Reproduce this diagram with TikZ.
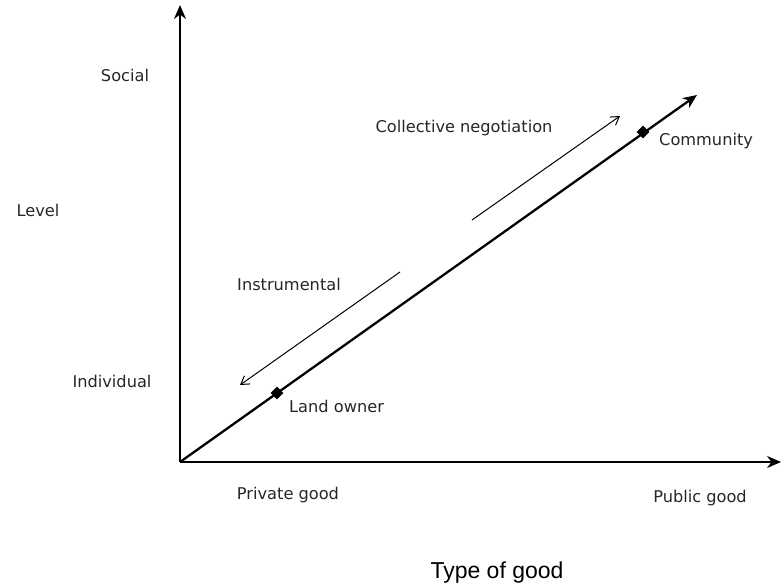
\documentclass[tikz,border=0pt]{standalone}
\usepackage{fontspec}
\setmainfont{DejaVu Sans}
\newfontfamily\arialfont{Liberation Sans}
\usetikzlibrary{arrows.meta,shapes.geometric}
\begin{document}
\begin{tikzpicture}[x=1pt,y=-1pt,
  lbl/.style={font=\fontsize{16.2}{18}\selectfont, text=black!85, inner sep=0pt},
  axis/.style={line width=2pt, -{Stealth[length=14pt,width=12pt,inset=4.5pt]}},
  thin arrow/.style={line width=1pt, -{Straight Barb[length=8pt,width=10pt]}},
  marker/.style={diamond, fill=black, minimum size=13pt, inner sep=0pt}]
\useasboundingbox (0,0) rectangle (781,586);
\coordinate (O) at (180,462);
\coordinate (Ytop) at (180,5);
\coordinate (Xend) at (781,462);
\coordinate (Dend) at (697,95);
\draw[axis] (O) -- (Ytop);
\draw[axis] (O) -- (Xend);
\draw[axis, line width=2.3pt] (O) -- (Dend);
\node[marker] (land) at (277,393) {};
\node[marker] (comm) at (643,132) {};
\coordinate (i1) at (400,272);
\coordinate (i2) at (240,385);
\coordinate (c1) at (472,220);
\coordinate (c2) at (620,116);
\draw[thin arrow] (i1) -- (i2);
\draw[thin arrow] (c1) -- (c2);
\node[lbl] (social) at (125,75) {Social};
\node[lbl] (level) at (38,210) {Level};
\node[lbl] (indiv) at (112,381) {Individual};
\node[lbl] (priv) at (288,495) {Private good};
\node[lbl] (pub) at (700,498) {Public good};
\node[lbl] (instr) at (289,284) {Instrumental};
\node[lbl] (coll) at (464,128) {Collective negotiation};
\node[lbl, anchor=west] (commlbl) at (659,141) {Community};
\node[lbl, anchor=west] (landlbl) at (289,406) {Land owner};
\node[font=\arialfont\fontsize{23}{26}\selectfont, inner sep=0pt] (type) at (497,573) {Type of good};
\end{tikzpicture}
\end{document}
